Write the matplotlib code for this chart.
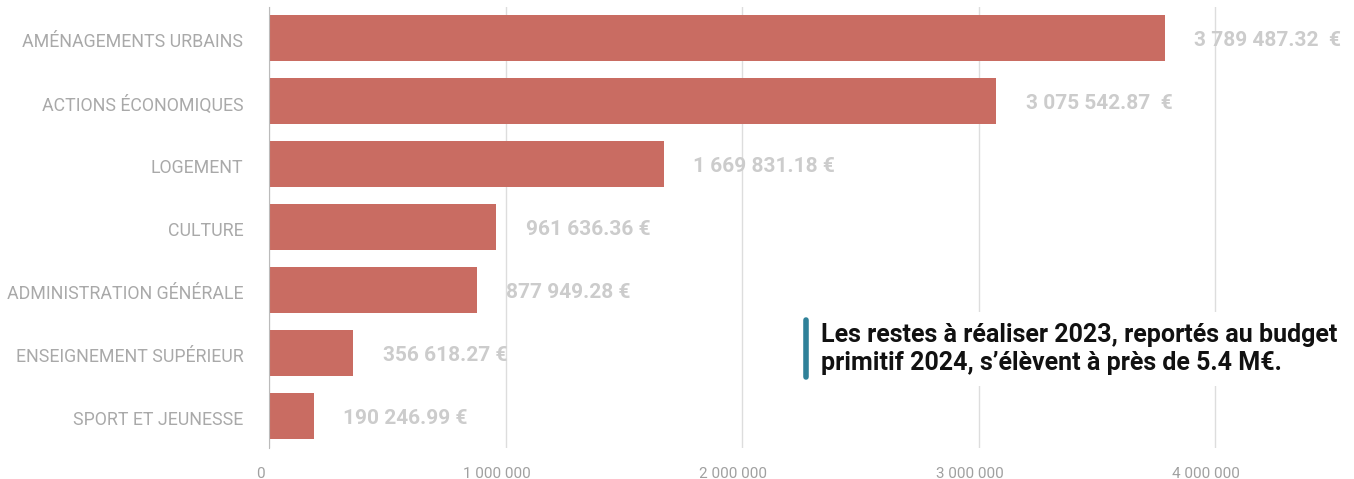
import matplotlib
matplotlib.use("Agg")
import matplotlib.pyplot as plt
import matplotlib.transforms as mtransforms
from matplotlib.lines import Line2D

categories = ["AMÉNAGEMENTS URBAINS", "ACTIONS ÉCONOMIQUES", "LOGEMENT", "CULTURE",
              "ADMINISTRATION GÉNÉRALE", "ENSEIGNEMENT SUPÉRIEUR", "SPORT ET JEUNESSE"]
values = [3789487.32, 3075542.87, 1669831.18, 961636.36, 877949.28, 356618.27, 190246.99]
value_labels = ["3 789 487.32  €", "3 075 542.87  €", "1 669 831.18 €", "961 636.36 €",
                "877 949.28 €", "356 618.27 €", "190 246.99 €"]
xticks = [0, 1000000, 2000000, 3000000, 4000000]
xtick_labels = ["0", "1 000 000", "2 000 000", "3 000 000", "4 000 000"]
note = "Les restes à réaliser 2023, reportés au budget\nprimitif 2024, s’élèvent à près de 5.4 M€."

plt.rcParams['font.family'] = ['Roboto', 'DejaVu Sans']

W, H = 1354, 479
fig = plt.figure(figsize=(W / 100, H / 100), dpi=100)
ax = fig.add_axes([269 / W, 31.5 / H, (W - 269) / W, 441 / H])

y = list(range(len(categories)))
ax.barh(y, values, height=0.73, color="#c96c62", zorder=2)
ax.set_ylim(len(categories) - 0.5, -0.5)
ax.set_xlim(0, (W - 269) / 236.5 * 1e6)

for i in y:
    ax.annotate(value_labels[i], (values[i], i), xytext=(21, -1.5), textcoords="offset points",
                va="center", ha="left", fontsize=15, fontweight="bold", color="#cccccc")

ax.set_yticks(y)
ax.set_yticklabels(categories, fontsize=12.8, color="#a9a9a9")
ax.set_xticks(xticks)
ax.set_xticklabels(xtick_labels, fontsize=11, color="#a0a0a0")
ax.tick_params(axis="both", length=0)
ax.tick_params(axis="y", pad=18.5)
ax.tick_params(axis="x", pad=14)
shift = mtransforms.ScaledTranslation(-9 / 100, 0, fig.dpi_scale_trans)
for lab in ax.get_xticklabels():
    lab.set_transform(lab.get_transform() + shift)
yshift = mtransforms.ScaledTranslation(0, -2 / 100, fig.dpi_scale_trans)
for lab in ax.get_yticklabels():
    lab.set_transform(lab.get_transform() + yshift)

ax.grid(axis="x", color="#dddddd", linewidth=1, zorder=0)
for s in ["top", "right", "bottom"]:
    ax.spines[s].set_visible(False)
ax.spines["left"].set_color("#bbbbbb")
ax.spines["left"].set_zorder(3)

fig.text(821 / W, 1 - 349 / H, note, ha="left", va="center", fontsize=18,
         fontweight="bold", color="#111111", linespacing=1.2,
         bbox=dict(facecolor="white", edgecolor="none", pad=8))
fig.add_artist(Line2D([806 / W, 806 / W], [1 - 320 / H, 1 - 377 / H], color="#2f8199",
                      linewidth=4, solid_capstyle="round"))

fig.savefig("out.png", dpi=100)
